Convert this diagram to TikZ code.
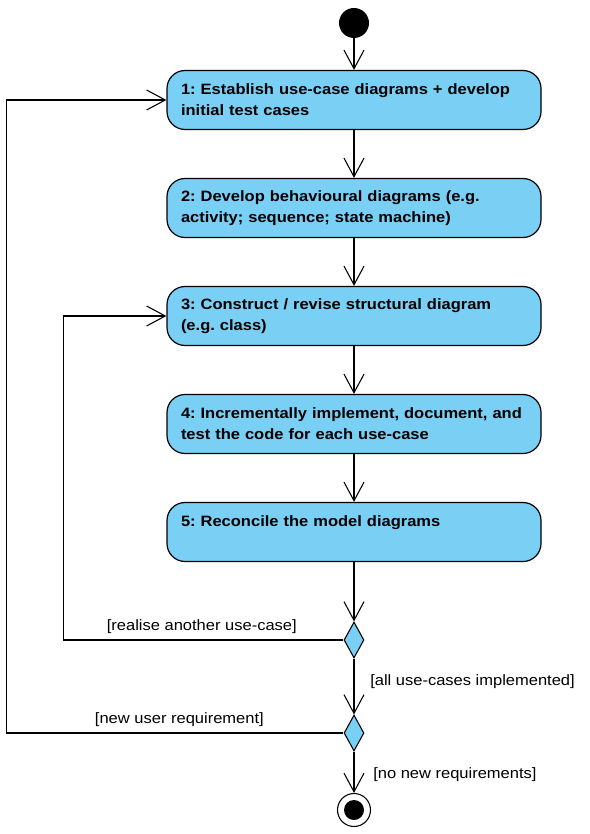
\documentclass[tikz,border=0pt]{standalone}
\usepackage{fontspec}
\setmainfont[FakeStretch=1.1]{Liberation Sans}
\usetikzlibrary{arrows.meta,shapes.geometric}
\frenchspacing
\definecolor{actblue}{HTML}{7ACFF4}
\tikzset{
  flow/.style={line width=0.8pt, -{Straight Barb[length=14pt, width=15pt, line width=0.8pt]}},
  action/.style={draw, line width=0.9pt, fill=actblue, rounded corners=13.5pt,
    minimum height=44.25pt, inner xsep=10.5pt, text width=259.5pt, align=left,
    font=\bfseries\fontsize{11.25pt}{15.75pt}\selectfont},
  decision/.style={draw, line width=0.8pt, fill=actblue, diamond, inner sep=0pt,
    minimum width=15pt, minimum height=27pt},
  guard/.style={inner sep=0pt, font=\fontsize{11.25pt}{15.75pt}\selectfont},
}
\begin{document}
\begin{tikzpicture}[x=0.75pt, y=-0.75pt]
    \useasboundingbox (0,0) rectangle (589,834);
    \node[circle, fill=black, minimum size=22.5pt, inner sep=0pt] (start) at (354,23) {};
    \node[action] (a1) at (354,100) {1: Establish use-case diagrams + develop\\initial test cases};
    \node[action] (a2) at (354,208) {2: Develop behavioural diagrams (e.g.\\activity; sequence; state machine)};
    \node[action] (a3) at (354,316) {3: Construct / revise structural diagram\\(e.g. class)};
    \node[action] (a4) at (354,424) {4: Incrementally implement, document, and\\test the code for each use-case};
    \node[action] (a5) at (354,532) {5: Reconcile the model diagrams\\\phantom{x}};
    \node[decision] (d1) at (354,640) {};
    \node[decision] (d2) at (354,733) {};
    \node[circle, draw, line width=0.8pt, minimum size=24.75pt, inner sep=0pt,
      path picture={\fill (path picture bounding box.center) circle (7.5pt);}] (stop) at (354,810) {};
    \draw[flow] (start) -- (a1);
    \draw[flow] (a1) -- (a2);
    \draw[flow] (a2) -- (a3);
    \draw[flow] (a3) -- (a4);
    \draw[flow] (a4) -- (a5);
    \draw[flow] (a5) -- (d1);
    \draw[flow] (d1) -- (d2);
    \draw[flow] (d2) -- (stop);
    % loops back
    \draw[flow] (d1.west) -- ++(-280,0) |- (a3.west);
    \draw[flow] (d2.west) -- ++(-337,0) |- (a1.west);
    \node[guard, anchor=east] (g1) at (297,627) {[realise another use-case]};
    \node[guard, anchor=west] (g2) at (370,682) {[all use-cases implemented]};
    \node[guard, anchor=east] (g3) at (264,720) {[new user requirement]};
    \node[guard, anchor=west] (g4) at (373,775) {[no new requirements]};
\end{tikzpicture}
\end{document}
